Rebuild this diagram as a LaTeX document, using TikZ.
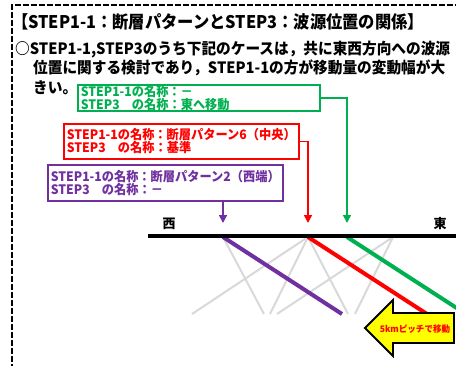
\documentclass[tikz,border=0pt]{standalone}
\usepackage{fontspec}
\setmainfont{Noto Sans CJK JP}
\usetikzlibrary{arrows.meta}
\definecolor{cgreen}{HTML}{00B050}
\definecolor{cred}{HTML}{FF0000}
\definecolor{cpurple}{HTML}{7030A0}
\definecolor{cgray}{HTML}{D9D9D9}
\definecolor{cyellow}{HTML}{FFFF00}
\newcommand{\hsq}[2]{\scalebox{#1}[1]{#2}}
\begin{document}
\begin{tikzpicture}[x=1pt,y=-1pt,
  txt/.style={anchor=west, inner sep=0pt, font=\bfseries\fontsize{15.6}{16}\selectfont},
  casebox/.style={draw=#1, text=#1, line width=1.6pt, anchor=north west, inner xsep=3pt, inner ysep=0pt,
     align=left, font=\bfseries\fontsize{13}{13}\selectfont},
  conn/.style={#1, line width=1.6pt, -{Triangle[width=8pt,length=8pt]}},
  faultgray/.style={cgray, line width=2pt},
  faultcol/.style={#1, line width=4pt}]
\clip (0,0) rectangle (456,365);
\fill[white] (0,0) rectangle (456,365);
% frame
\draw[line width=1.5pt, dash pattern=on 6pt off 2pt] (12,370) -- (12,5) -- (460,5);
% title and text
\node[txt, font=\bfseries\fontsize{17.4}{18}\selectfont] (title) at (12,22) {\hsq{0.935}{【STEP1-1：断層パターンとSTEP3：波源位置の関係】}};
\node[txt] (l2) at (15,50) {\hsq{0.94}{○STEP1-1,STEP3のうち下記のケースは，共に東西方向への波源}};
\node[txt] (l3) at (33,68) {\hsq{0.94}{位置に関する検討であり，STEP1-1の方が移動量の変動幅が大}};
\node[txt] (l4) at (33,88) {\hsq{0.94}{きい。}};
% boxes
\node[casebox=cgreen, minimum height=26pt, text width=236pt] (gbox) at (77,84) {\hsq{0.94}{STEP1-1の名称：－}\\\hsq{0.94}{STEP3　の名称：東へ移動}};
\node[casebox=cred, minimum height=35pt, text width=229pt] (rbox) at (63,123) {\hsq{0.94}{STEP1-1の名称：断層パターン6（中央）}\\\hsq{0.94}{STEP3　の名称：基準}};
\node[casebox=cpurple, minimum height=36pt, text width=229pt] (pbox) at (47,164) {\hsq{0.94}{STEP1-1の名称：断層パターン2（西端）}\\\hsq{0.94}{STEP3　の名称：－}};
% arrow targets
\coordinate (garr) at (347,223);
\coordinate (rarr) at (308,223);
\coordinate (parr) at (223,223);
\draw[conn=cgreen] (gbox.east) -| (garr);
\draw[conn=cred] (rbox.east) -| (rarr);
\draw[conn=cpurple] (parr |- pbox.south) -- (parr);
% fault points
\coordinate (A) at (223,237);
\coordinate (B) at (308,237);
\coordinate (C) at (393,237);
\coordinate (G) at (347,237);
\draw[faultgray] (A) -- (264,314);
\draw[faultgray] (B) -- (192,314);
\draw[faultgray] (B) -- (270,314);
\draw[faultgray] (B) -- (348,314);
\draw[faultgray] (C) -- (277,314);
\draw[faultgray] (C) -- (355,314);
\draw[faultcol=cpurple] (A) -- (342,314);
\draw[faultcol=cred] (B) -- (427,314);
\draw[faultcol=cgreen] (G) -- (469,316);
% ground line
\coordinate (gw) at (148,235.5);
\coordinate (ge) at (460,235.5);
\draw[line width=4pt] (gw) -- (ge);
\node[font=\bfseries\fontsize{13}{13}\selectfont, inner sep=0pt] (west) at (169,224) {西};
\node[font=\bfseries\fontsize{13}{13}\selectfont, inner sep=0pt] (east) at (440,224) {東};
% yellow arrow
\draw[fill=cyellow, line width=1.8pt, line join=miter] (365,328) -- (393,300) -- (393,313) -- (454,313) -- (454,343) -- (393,343) -- (393,356) -- cycle;
\node[text=cred, font=\bfseries\fontsize{9}{9}\selectfont, inner sep=0pt] (pitch) at (415,329) {\hsq{0.95}{5kmピッチで移動}};
\end{tikzpicture}
\end{document}
